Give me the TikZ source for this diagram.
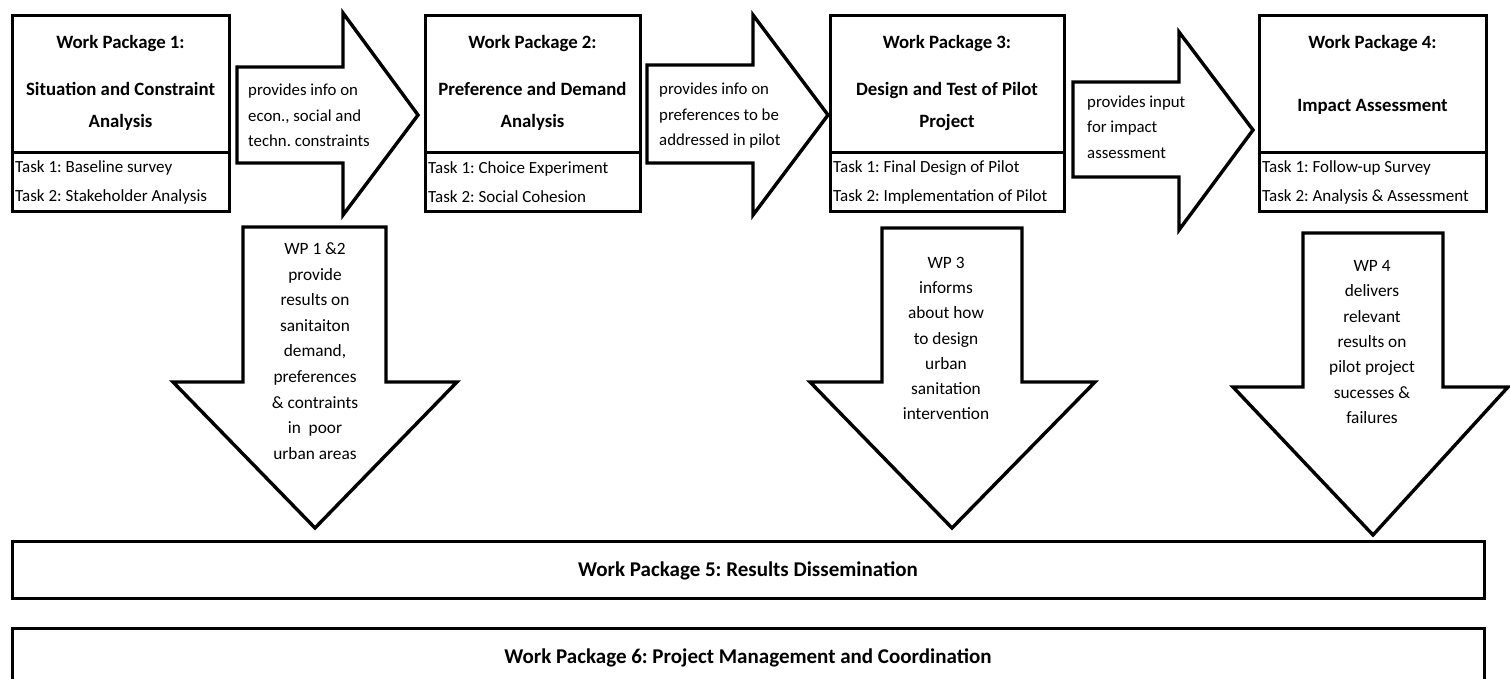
\documentclass[tikz,border=0pt]{standalone}
\usepackage{fontspec}
\setmainfont{Carlito}
\begin{document}
\frenchspacing
\begin{tikzpicture}[x=1pt,y=-1pt,
  boxline/.style={draw=black,line width=3pt,fill=white},
  arrowline/.style={draw=black,line width=3.4pt,fill=white,line join=miter},
  title/.style={font=\fontsize{18.8}{22}\selectfont\bfseries,inner sep=0pt,anchor=center},
  titletwo/.style={font=\fontsize{18.8}{32}\selectfont\bfseries,inner sep=0pt,align=center,anchor=center},
  tasks/.style={font=\fontsize{17}{29}\selectfont,inner sep=0pt,align=left,anchor=west},
  arrowtext/.style={font=\fontsize{16.8}{25.5}\selectfont,inner sep=0pt,align=left,anchor=west},
  downtext/.style={font=\fontsize{17.3}{25.6}\selectfont,inner sep=0pt,align=center,anchor=center},
  bigtitle/.style={font=\fontsize{21}{24}\selectfont\bfseries,inner sep=0pt,anchor=center}]
\useasboundingbox (0,0) rectangle (1510,679);
\clip (0,0) rectangle (1510,679);
\fill[white] (0,0) rectangle (1510,679);

% ---- Work package boxes ----
\draw[boxline] (12,16) rectangle (229,212);
\draw[boxline] (12,153) -- (229,153);
\draw[boxline] (425,16) rectangle (640,212);
\draw[boxline] (425,153) -- (640,153);
\draw[boxline] (830,16) rectangle (1064,212);
\draw[boxline] (830,153) -- (1064,153);
\draw[boxline] (1259,16) rectangle (1486,212);
\draw[boxline] (1259,153) -- (1486,153);

% ---- Horizontal block arrows ----
\draw[arrowline] (237,67) -- (343,67) -- (343,13) -- (418,115) -- (343,215) -- (343,163) -- (237,163) -- cycle;
\draw[arrowline] (647,65) -- (753,65) -- (753,15) -- (828,115) -- (753,215) -- (753,163) -- (647,163) -- cycle;
\draw[arrowline] (1073,82) -- (1179,82) -- (1179,32) -- (1253,130) -- (1179,230) -- (1179,177) -- (1073,177) -- cycle;

% ---- Downward block arrows ----
\draw[arrowline] (243,227) -- (386,227) -- (386,382) -- (457,382) -- (315,528) -- (173,382) -- (243,382) -- cycle;
\draw[arrowline] (882,228) -- (1022,228) -- (1022,382) -- (1095,382) -- (952,528) -- (810,382) -- (882,382) -- cycle;
\draw[arrowline] (1303,233) -- (1443,233) -- (1443,387) -- (1508,387) -- (1373,535) -- (1233,387) -- (1303,387) -- cycle;

% ---- Bottom boxes ----
\draw[boxline] (12,541) rectangle (1484,598);
\draw[boxline] (12,628) rectangle (1484,700);

% ---- Texts ----
\node[title] (wp1a) at (120.5,43) {Work Package 1:};
\node[titletwo] (wp1b) at (120.5,106) {Situation and Constraint\\Analysis};
\node[tasks] (wp1t) at (15,182.5) {Task 1: Baseline survey\\Task 2: Stakeholder Analysis};

\node[title] (wp2a) at (532.5,43) {Work Package 2:};
\node[titletwo] (wp2b) at (532.5,106) {Preference and Demand\\Analysis};
\node[tasks] (wp2t) at (428,182.5) {Task 1: Choice Experiment\\Task 2: Social Cohesion};

\node[title] (wp3a) at (947,43) {Work Package 3:};
\node[titletwo] (wp3b) at (947,106) {Design and Test of Pilot\\Project};
\node[tasks] (wp3t) at (833,182.5) {Task 1: Final Design of Pilot\\Task 2: Implementation of Pilot};

\node[title] (wp4a) at (1372.5,43) {Work Package 4:};
\node[title] (wp4b) at (1372.5,107) {Impact Assessment};
\node[tasks] (wp4t) at (1262,182.5) {Task 1: Follow-up Survey\\Task 2: Analysis \& Assessment};

\node[arrowtext] (a1) at (248,115.5) {provides info on\\econ., social and\\techn. constraints};
\node[arrowtext] (a2) at (659,116) {provides info on\\preferences to be\\addressed in pilot};
\node[arrowtext] (a3) at (1087,127) {provides input\\for impact\\assessment};

\node[downtext] (d1) at (315,351) {WP 1 \&2\\provide\\results on\\sanitaiton\\demand,\\preferences\\\& contraints\\in\ \ poor\\urban areas};
\node[downtext,font=\fontsize{17.3}{25.2}\selectfont] (d2) at (946,338.5) {WP 3\\informs\\about how\\to design\\urban\\sanitation\\intervention};
\node[downtext,font=\fontsize{17.3}{25.3}\selectfont] (d3) at (1372,342) {WP 4\\delivers\\relevant\\results on\\pilot project\\sucesses \&\\failures};

\node[bigtitle] (wp5) at (748,571) {Work Package 5: Results Dissemination};
\node[bigtitle] (wp6) at (748,658) {Work Package 6: Project Management and Coordination};
\end{tikzpicture}
\end{document}
